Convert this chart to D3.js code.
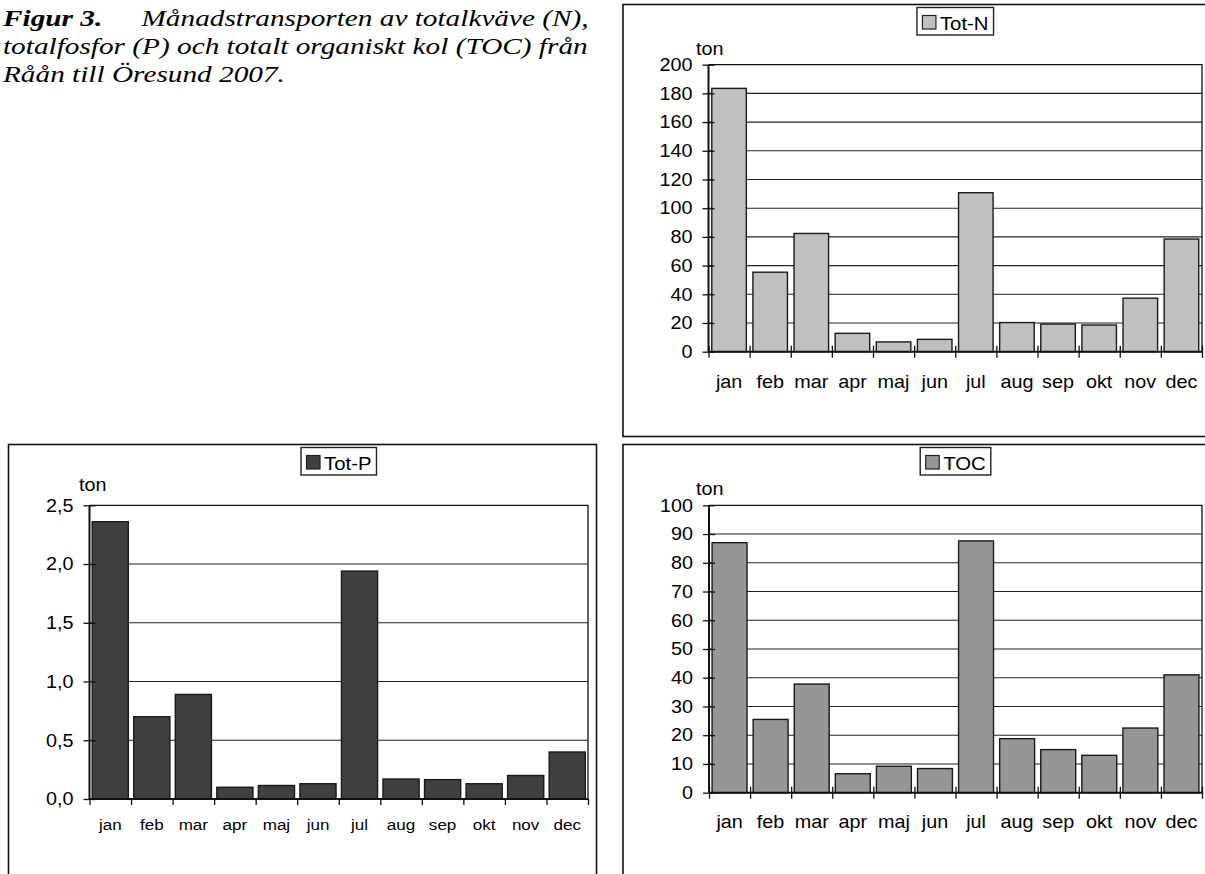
<!DOCTYPE html>
<html>
<head>
<meta charset="utf-8">
<script src="https://cdn.jsdelivr.net/npm/d3@7/dist/d3.min.js"></script>
<style>
  html, body { margin: 0; padding: 0; background: #fff; }
  svg { display: block; }
  .sx { transform-box: fill-box; transform: scaleX(1.1); }
  .sx-end { transform-origin: 100% 50%; }
  .sx-mid { transform-origin: 50% 50%; }
  .sx-start { transform-origin: 0% 50%; }
  text { font-family: "Liberation Sans", Arial, sans-serif; fill: #000; }
</style>
</head>
<body>
<svg id="chart" width="1205" height="874"></svg>
<script>
// ---- data ----
const months = ["jan","feb","mar","apr","maj","jun","jul","aug","sep","okt","nov","dec"];
const totN = [183.5, 55.4, 82.4, 12.8, 6.8, 8.6, 110.8, 20.3, 19.3, 18.6, 37.3, 78.5];
const totP = [2.36, 0.70, 0.89, 0.10, 0.115, 0.13, 1.94, 0.17, 0.165, 0.13, 0.20, 0.40];
const toc  = [87.0, 25.5, 37.8, 6.6, 9.2, 8.4, 87.6, 18.8, 15.0, 13.0, 22.5, 41.0];
const totNTicks = [0,20,40,60,80,100,120,140,160,180,200];
const totPTicks = [0,0.5,1.0,1.5,2.0,2.5];
const tocTicks  = [0,10,20,30,40,50,60,70,80,90,100];
const seriesNames = ["Tot-N","Tot-P","TOC"];
const unitLabel = "ton";
const captionLines = [
  [{t:"Figur 3.", b:true}, {t:"Månadstransporten av totalkväve (N),", b:false, x:141.5}],
  [{t:"totalfosfor (P) och totalt organiskt kol (TOC) från", b:false}],
  [{t:"Råån till Öresund 2007.", b:false}]
];

const svg = d3.select("#chart");

// ---- caption (text horizontally widened like the source) ----
const capScale = 1.22;
const cap = svg.append("g").attr("transform", `scale(${capScale},1)`);
captionLines.forEach((line, i) => {
  const tx = cap.append("text")
    .attr("y", 26 + i * 27.8)
    .style("font-family", "'Liberation Serif', 'Times New Roman', serif")
    .style("font-style", "italic")
    .style("font-size", "24px");
  line.forEach(seg => {
    const ts = tx.append("tspan").text(seg.t);
    ts.attr("x", (seg.x !== undefined ? seg.x : 3) / capScale);
    if (seg.b) ts.style("font-weight", "bold");
  });
});

function drawChart(cfg) {
  const g = svg.append("g");
  // outer frame
  g.append("rect")
    .attr("x", cfg.box[0]).attr("y", cfg.box[1])
    .attr("width", cfg.box[2] - cfg.box[0]).attr("height", cfg.box[3] - cfg.box[1])
    .attr("fill", "none").attr("stroke", "#111").attr("stroke-width", 1.6);

  const [x0, y0, x1, y1] = cfg.plot; // left, top, right, bottom
  const x = d3.scaleBand().domain(months).range([x0, x1])
    .paddingInner(cfg.pad).paddingOuter(cfg.pad / 2);
  const xb = d3.scaleLinear().domain([0, months.length]).range([x0, x1]);
  const y = d3.scaleLinear().domain([0, d3.max(cfg.ticks)]).range([y1, y0]);

  // gridlines
  g.append("g").selectAll("line")
    .data(cfg.ticks.filter(t => t > 0 && t < d3.max(cfg.ticks)))
    .join("line")
    .attr("x1", x0).attr("x2", x1)
    .attr("y1", d => y(d)).attr("y2", d => y(d))
    .attr("stroke", "#222").attr("stroke-width", 1.1);

  // plot border top and right
  g.append("path")
    .attr("d", `M${x0},${y(d3.max(cfg.ticks))}H${x1}V${y(0)}`)
    .attr("fill", "none").attr("stroke", "#111").attr("stroke-width", 1.3);

  // bars
  g.append("g").selectAll("rect")
    .data(cfg.values)
    .join("rect")
    .attr("x", (d, i) => x(months[i]))
    .attr("width", x.bandwidth())
    .attr("y", d => y(d))
    .attr("height", d => y(0) - y(d))
    .attr("fill", cfg.color)
    .attr("stroke", "#1a1a1a").attr("stroke-width", 1.4);

  // y axis
  const ya = g.append("g").attr("transform", `translate(${x0},0)`)
    .call(d3.axisLeft(y).tickValues(cfg.ticks).tickSize(6).tickPadding(10)
      .tickFormat(cfg.fmt));
  ya.select(".domain").attr("stroke", "#111").attr("stroke-width", 2)
    .attr("d", `M0,${y(d3.max(cfg.ticks))}V${y(0)}`);
  ya.selectAll(".tick line").attr("x1", 6).attr("stroke", "#111").attr("stroke-width", 1.3);
  ya.selectAll(".tick text")
    .style("font-size", cfg.yFont + "px")
    .attr("class", "sx sx-end");

  // x axis (boundary ticks)
  const xa = g.append("g").attr("transform", `translate(0,${y1})`)
    .call(d3.axisBottom(xb).tickValues(d3.range(months.length + 1)).tickSize(6).tickFormat(""));
  xa.select(".domain").attr("stroke", "#111").attr("stroke-width", 2)
    .attr("d", `M${x0},0H${x1}`);
  xa.selectAll(".tick line").attr("y1", cfg.crossX ? -6 : 0).attr("stroke", "#111").attr("stroke-width", 1.3);

  // month labels
  g.append("g").selectAll("text")
    .data(months)
    .join("text")
    .attr("x", d => x(d) + x.bandwidth() / 2)
    .attr("y", cfg.monthY)
    .attr("text-anchor", "middle")
    .attr("class", "sx sx-mid")
    .style("font-size", cfg.mFont + "px")
    .text(d => d);

  // unit label
  g.append("text")
    .attr("x", cfg.unitPos[0]).attr("y", cfg.unitPos[1])
    .attr("class", "sx sx-start")
    .style("font-size", cfg.yFont + "px")
    .text(unitLabel);

  // legend
  const lg = g.append("g");
  const lt = lg.append("text")
    .attr("y", cfg.box[1] + 25.5)
    .style("font-size", "18.5px")
    .attr("class", "sx sx-start")
    .text(cfg.name);
  const tw = lt.node().getComputedTextLength() * 1.1;
  const sw = 13.5, padL = 5.5, gap = 4, padR = 5;
  const lw = padL + sw + gap + tw + padR;
  const cx = (x0 + x1) / 2;
  const lx = cx - lw / 2, ly = cfg.box[1] + 3;
  lg.insert("rect", "text")
    .attr("x", lx).attr("y", ly).attr("width", lw).attr("height", 27.5)
    .attr("fill", "#fff").attr("stroke", "#222").attr("stroke-width", 1.4);
  lg.append("rect")
    .attr("x", lx + padL).attr("y", ly + 8).attr("width", sw).attr("height", sw)
    .attr("fill", cfg.color).attr("stroke", "#222").attr("stroke-width", 1.2);
  lt.attr("x", lx + padL + sw + gap);
}

const commaFmt = d => d3.format(".1f")(d).replace(".", ",");

drawChart({
  name: seriesNames[0], values: totN, ticks: totNTicks, fmt: d3.format("d"),
  color: "#c0c0c0", box: [623, 4.5, 1215, 436.5], plot: [708.5, 64.7, 1202, 351.7],
  pad: 0.16, yFont: 18, mFont: 18, monthY: 388, unitPos: [696, 55], crossX: true
});
drawChart({
  name: seriesNames[1], values: totP, ticks: totPTicks, fmt: commaFmt,
  color: "#404040", box: [8.5, 444.5, 596.5, 890], plot: [89.5, 505.3, 588, 799],
  pad: 0.13, yFont: 18, mFont: 15.5, monthY: 830, unitPos: [79, 491.5], crossX: false
});
drawChart({
  name: seriesNames[2], values: toc, ticks: tocTicks, fmt: d3.format("d"),
  color: "#969696", box: [623, 444.5, 1215, 890], plot: [709, 505.3, 1202, 792.7],
  pad: 0.15, yFont: 18, mFont: 18, monthY: 828, unitPos: [696, 495], crossX: true
});
</script>
</body>
</html>
